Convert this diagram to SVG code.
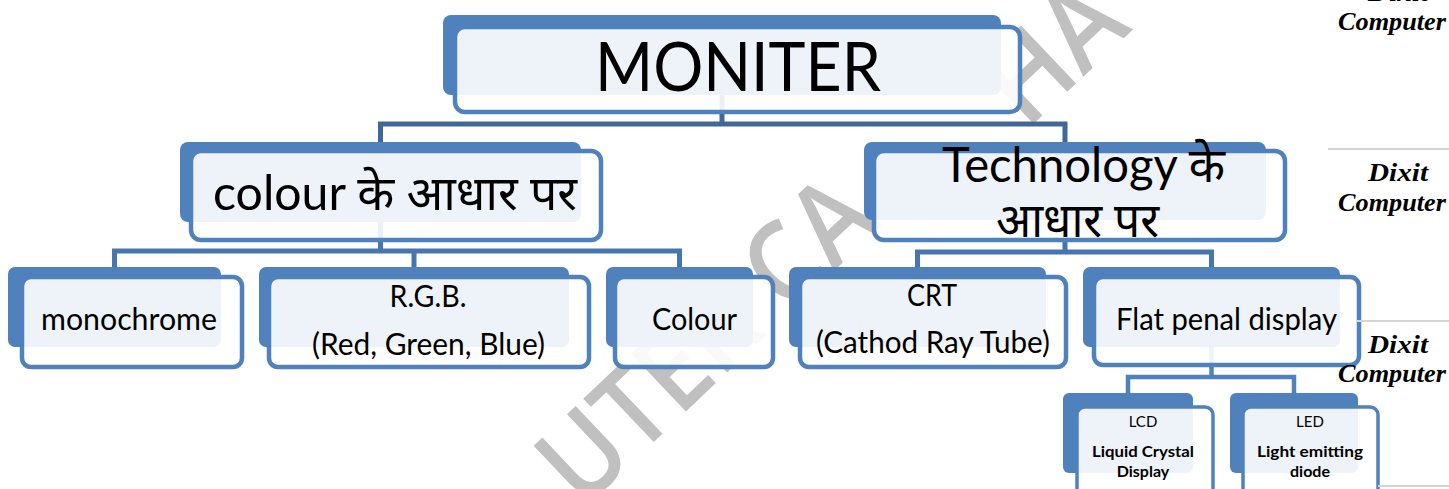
<svg xmlns="http://www.w3.org/2000/svg" width="1449" height="489" viewBox="0 0 1449 489">
<style>
.back{fill:#4F81BD}
.front{fill:#FFFFFF;fill-opacity:0.9;stroke:#4F81BD;stroke-width:4.5}
.front.s{stroke-width:3.5}
.c1{fill:none;stroke:#3F6899;stroke-width:5}
.c2{fill:none;stroke:#4776AE;stroke-width:5}
.c3{fill:none;stroke:#4F81BD;stroke-width:4.5}
.t{font-family:Lato,"Noto Sans","Noto Sans Devanagari",sans-serif;fill:#000}
.b{font-weight:bold}
.wm{font-family:"Open Sans",Lato,sans-serif;fill:#C0C0C0;font-size:112px;font-weight:600}
.sig{font-family:"Liberation Serif","DejaVu Serif",serif;font-style:italic;font-weight:bold;font-size:26px;fill:#000}
.rule{stroke:#D4D4D4;stroke-width:2}
</style>
<rect width="1449" height="489" fill="#FFFFFF"/>
<g id="watermark">
<text class="wm" transform="translate(582,455) rotate(-43.5)" x="-37.6" y="40" textLength="414" lengthAdjust="spacingAndGlyphs">UTER CA</text>
<text class="wm" transform="translate(1027,75) rotate(-43.5)" x="-38.6" y="40" textLength="147" lengthAdjust="spacingAndGlyphs">HA</text>
</g>
<g id="connectors">
<path class="c1" d="M722 95 V124 M380.5 142 V124 H1065 V142"/>
<path class="c2" d="M380.5 222 V251 M114.5 267 V251 H679.5 V267 M414 251 V267"/>
<path class="c2" d="M1065 220 V252 M917.5 267 V252 H1211.5 V267"/>
<path class="c3" d="M1211.5 347 V377 M1128 393 V377 H1294 V393"/>
</g>
<g id="n-moniter">
<rect class="back" x="443" y="15" width="558" height="80" rx="8"/>
<rect class="front" x="455" y="27" width="565" height="85" rx="10"/>
<text class="t" x="738" y="91" font-size="67" text-anchor="middle" textLength="286" lengthAdjust="spacingAndGlyphs">MONITER</text>
</g>
<g id="n-colour-basis">
<rect class="back" x="180" y="142" width="401" height="80" rx="8"/>
<rect class="front" x="191" y="151" width="410" height="89" rx="10"/>
<text class="t" x="213" y="210" font-size="48" textLength="364" lengthAdjust="spacingAndGlyphs">colour के आधार पर</text>
</g>
<g id="n-technology-basis">
<rect class="back" x="864" y="142" width="402" height="78" rx="8"/>
<rect class="front" x="874" y="151" width="411" height="89" rx="10"/>
<text class="t" x="942" y="182" font-size="48" textLength="283" lengthAdjust="spacingAndGlyphs">Technology के</text>
<text class="t" x="996" y="237" font-size="48" textLength="163" lengthAdjust="spacingAndGlyphs">आधार पर</text>
</g>
<g id="n-monochrome">
<rect class="back" x="8" y="267" width="213" height="80" rx="7"/>
<rect class="front" x="22" y="277" width="220" height="90" rx="9"/>
<text class="t" x="41" y="330" font-size="30" textLength="176" lengthAdjust="spacingAndGlyphs">monochrome</text>
</g>
<g id="n-rgb">
<rect class="back" x="259" y="267" width="310" height="80" rx="7"/>
<rect class="front" x="269" y="277" width="320" height="90" rx="9"/>
<text class="t" x="428" y="307" font-size="30" text-anchor="middle" textLength="77" lengthAdjust="spacingAndGlyphs">R.G.B.</text>
<text class="t" x="312" y="355" font-size="30" textLength="233" lengthAdjust="spacingAndGlyphs">(Red, Green, Blue)</text>
</g>
<g id="n-colour">
<rect class="back" x="606" y="267" width="147" height="80" rx="7"/>
<rect class="front" x="615" y="277" width="158" height="90" rx="9"/>
<text class="t" x="652" y="330" font-size="30" textLength="85" lengthAdjust="spacingAndGlyphs">Colour</text>
</g>
<g id="n-crt">
<rect class="back" x="789" y="267" width="257" height="80" rx="7"/>
<rect class="front" x="800" y="277" width="266" height="90" rx="9"/>
<text class="t" x="932" y="306" font-size="30" text-anchor="middle" textLength="50" lengthAdjust="spacingAndGlyphs">CRT</text>
<text class="t" x="816" y="353" font-size="30" textLength="234" lengthAdjust="spacingAndGlyphs">(Cathod Ray Tube)</text>
</g>
<g id="n-flat">
<rect class="back" x="1083" y="267" width="257" height="80" rx="7"/>
<rect class="front" x="1094" y="277" width="265" height="88" rx="9"/>
<text class="t" x="1116" y="330" font-size="30" textLength="221" lengthAdjust="spacingAndGlyphs">Flat penal display</text>
</g>
<g id="n-lcd">
<rect class="back" x="1063" y="393" width="130" height="80" rx="6"/>
<rect class="front s" x="1077" y="407" width="136" height="92" rx="8"/>
<text class="t" x="1143" y="427" font-size="15" text-anchor="middle">LCD</text>
<text class="t b" x="1092" y="457" font-size="16" textLength="102" lengthAdjust="spacingAndGlyphs">Liquid Crystal</text>
<text class="t b" x="1143" y="477" font-size="16" text-anchor="middle">Display</text>
</g>
<g id="n-led">
<rect class="back" x="1230" y="393" width="128" height="80" rx="6"/>
<rect class="front s" x="1243" y="407" width="135" height="92" rx="8"/>
<text class="t" x="1310" y="427" font-size="15" text-anchor="middle">LED</text>
<text class="t b" x="1257" y="457" font-size="16" textLength="106" lengthAdjust="spacingAndGlyphs">Light emitting</text>
<text class="t b" x="1310" y="477" font-size="16" text-anchor="middle">diode</text>
</g>
<g id="side-marks">
<line class="rule" x1="1328" y1="149" x2="1449" y2="149"/>
<line class="rule" x1="1357" y1="321" x2="1449" y2="321"/>
<line class="rule" x1="1378" y1="486" x2="1449" y2="486"/>
<text class="sig" x="1368" y="1" textLength="60" lengthAdjust="spacingAndGlyphs">Dixit</text>
<text class="sig" x="1338" y="30" textLength="108" lengthAdjust="spacingAndGlyphs">Computer</text>
<text class="sig" x="1368" y="181" textLength="60" lengthAdjust="spacingAndGlyphs">Dixit</text>
<text class="sig" x="1338" y="211" textLength="108" lengthAdjust="spacingAndGlyphs">Computer</text>
<text class="sig" x="1368" y="353" textLength="60" lengthAdjust="spacingAndGlyphs">Dixit</text>
<text class="sig" x="1338" y="382" textLength="108" lengthAdjust="spacingAndGlyphs">Computer</text>
</g>
</svg>
